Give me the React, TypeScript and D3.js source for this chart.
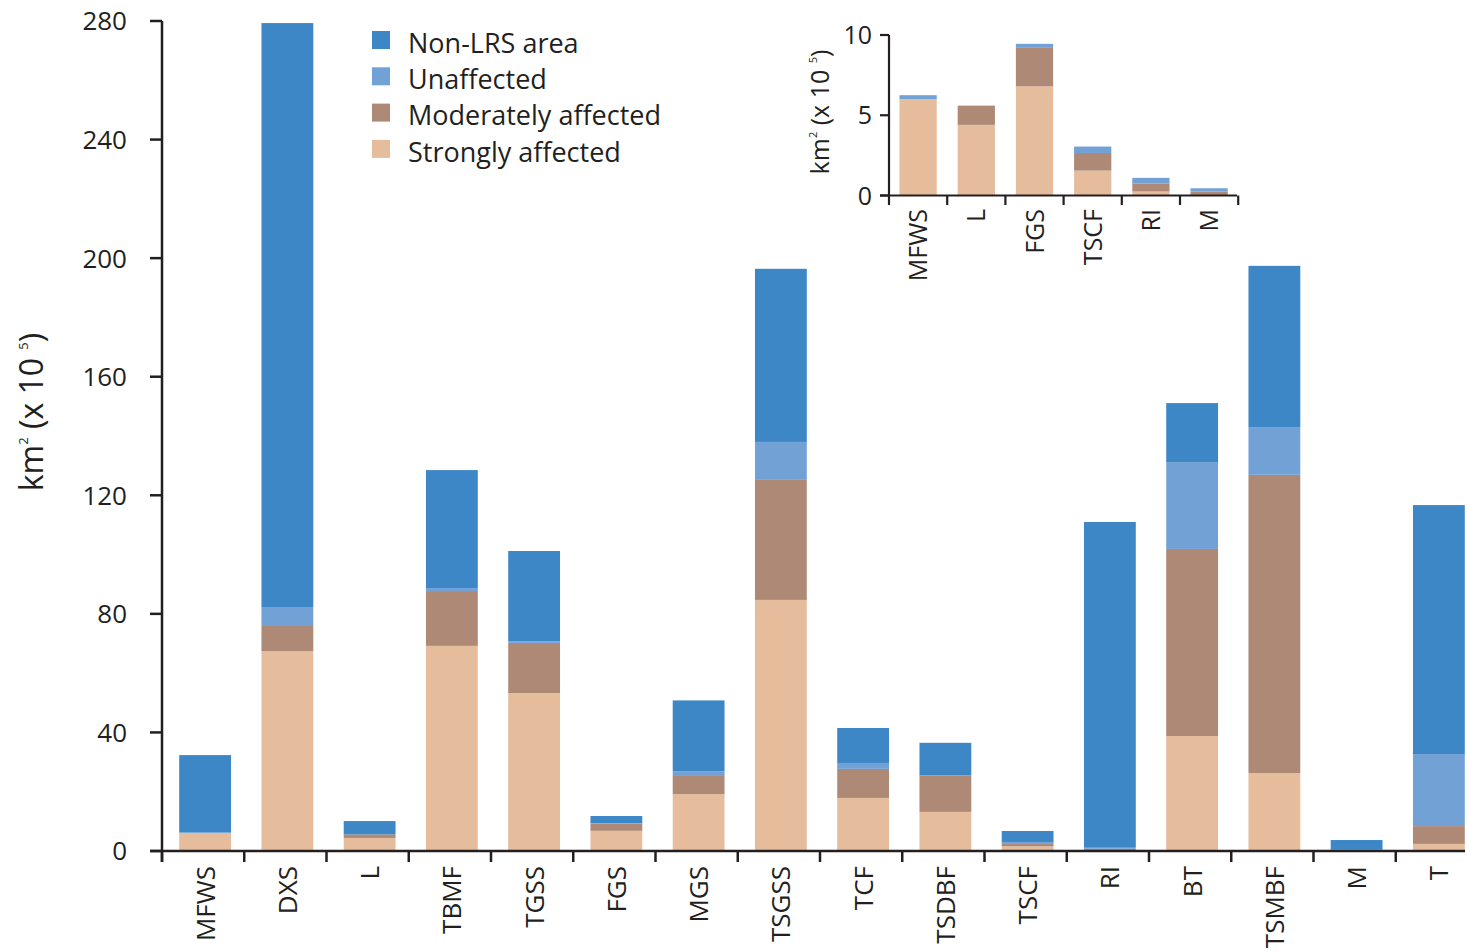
import React from "react";
import * as d3 from "d3";

const categories = ["MFWS","DXS","L","TBMF","TGSS","FGS","MGS","TSGSS","TCF","TSDBF","TSCF","RI","BT","TSMBF","M","T"];
const strongly = [6.0, 67.4, 4.4, 69.2, 53.3, 6.8, 19.2, 84.7, 17.9, 13.2, 1.55, 0.25, 38.8, 26.3, 0.02, 2.4];
const moderately = [0, 8.5, 1.2, 18.5, 16.9, 2.4, 6.4, 40.5, 9.8, 12.1, 1.1, 0.5, 63.1, 100.6, 0.23, 6.0];
const unaffected = [0.25, 6.4, 0, 1.0, 0.5, 0.25, 1.3, 12.8, 2.0, 0.2, 0.4, 0.35, 29.3, 16.1, 0.2, 24.3];
const nonLRS = [26.1, 197, 4.5, 39.8, 30.5, 2.35, 23.9, 58.4, 11.8, 11.0, 3.7, 109.9, 19.9, 54.4, 3.25, 84.0];

const insetCategories = ["MFWS","L","FGS","TSCF","RI","M"];
const yTicks = [0, 40, 80, 120, 160, 200, 240, 280];
const insetTicks = [0, 5, 10];

const seriesNames = ["Strongly affected","Moderately affected","Unaffected","Non-LRS area"];
const colors = ["#e5bd9d","#ae8a76","#72a1d6","#3d87c7"];
const legendOrder = [3, 2, 1, 0];

const FONT = "'Open Sans', 'Noto Sans', sans-serif";
const INK = "#231f20";

function stackRows(cats: string[]) {
  return cats.map((c) => {
    const i = categories.indexOf(c);
    return { cat: c, s0: strongly[i], s1: moderately[i], s2: unaffected[i], s3: nonLRS[i] };
  });
}

export default function App() {
  const W = 1467, H = 952;
  // main chart
  const x = d3.scaleBand().domain(categories).range([164, 1480]).paddingInner(0.37).paddingOuter(0.185);
  const y = d3.scaleLinear().domain([0, 280]).range([851, 21]);
  const mainSeries = d3.stack<any>().keys(["s0", "s1", "s2", "s3"])(stackRows(categories));
  const step = x.step();

  // inset (LRS classes only)
  const xi = d3.scaleBand().domain(insetCategories).range([889, 889 + 58.2 * 6]).paddingInner(0.36).paddingOuter(0.18);
  const yi = d3.scaleLinear().domain([0, 10]).range([195.5, 35]);
  const insetSeries = d3.stack<any>().keys(["s0", "s1", "s2"])(stackRows(insetCategories));
  const stepI = xi.step();

  return (
    <svg width={W} height={H} style={{ position: "absolute", left: 0, top: 0, background: "#fff" }} fontFamily={FONT}>
      {/* main bars */}
      {mainSeries.map((s, si) => (
        <g key={si} fill={colors[si]}>
          {s.map((d: any, j: number) => (
            <rect key={j} x={x(d.data.cat)} width={x.bandwidth()} y={y(d[1])} height={Math.max(0, y(d[0]) - y(d[1]))} />
          ))}
        </g>
      ))}
      {/* main y axis */}
      <line x1={162} x2={162} y1={21} y2={862} stroke={INK} strokeWidth={2.5} />
      {yTicks.map((t) => (
        <g key={t}>
          <line x1={150} x2={162} y1={y(t)} y2={y(t)} stroke={INK} strokeWidth={2.5} />
          <text x={127} y={y(t)} dy="0.36em" textAnchor="end" fontSize={26} fill={INK}>{t}</text>
        </g>
      ))}
      {/* main x axis */}
      <line x1={150} x2={1465} y1={851} y2={851} stroke={INK} strokeWidth={2.5} />
      {categories.map((c, i) => (
        <line key={"t" + c} x1={162 + i * step} x2={162 + i * step} y1={851} y2={862} stroke={INK} strokeWidth={2.5} />
      ))}
      {categories.map((c) => (
        <text key={"l" + c} transform={`translate(${(x(c) as number) + x.bandwidth() / 2},866) rotate(-90)`} textAnchor="end" dy="0.36em" fontSize={26} fill={INK}>{c}</text>
      ))}
      {/* y label */}
      <text transform="translate(43,412) rotate(-90)" textAnchor="middle" fontSize={32} fill={INK}>
        km<tspan fontSize={13} dy={-15}>2</tspan><tspan dy={15}> (x 10 </tspan><tspan fontSize={13} dy={-15}>5</tspan><tspan dy={15}>)</tspan>
      </text>
      {/* legend */}
      {legendOrder.map((si, k) => (
        <g key={si} transform={`translate(372,${31 + k * 36.3})`}>
          <rect width={18} height={18} fill={colors[si]} />
          <text x={36} y={12} dy="0.36em" fontSize={27} fill={INK}>{seriesNames[si]}</text>
        </g>
      ))}
      {/* inset bars */}
      {insetSeries.map((s, si) => (
        <g key={"i" + si} fill={colors[si]}>
          {s.map((d: any, j: number) => (
            <rect key={j} x={xi(d.data.cat)} width={xi.bandwidth()} y={yi(d[1])} height={Math.max(0, yi(d[0]) - yi(d[1]))} />
          ))}
        </g>
      ))}
      <line x1={889} x2={889} y1={35} y2={205} stroke={INK} strokeWidth={2.2} />
      {insetTicks.map((t) => (
        <g key={"it" + t}>
          <line x1={880} x2={889} y1={yi(t)} y2={yi(t)} stroke={INK} strokeWidth={2.2} />
          <text x={872} y={yi(t)} dy="0.36em" textAnchor="end" fontSize={25} fill={INK}>{t}</text>
        </g>
      ))}
      <line x1={880} x2={1237} y1={195.5} y2={195.5} stroke={INK} strokeWidth={2.2} />
      {insetCategories.map((c, i) => (
        <line key={"itk" + c} x1={889 + (i + 1) * stepI} x2={889 + (i + 1) * stepI} y1={195.5} y2={205} stroke={INK} strokeWidth={2.2} />
      ))}
      {insetCategories.map((c) => (
        <text key={"il" + c} transform={`translate(${(xi(c) as number) + xi.bandwidth() / 2},209) rotate(-90)`} textAnchor="end" dy="0.36em" fontSize={25} fill={INK}>{c}</text>
      ))}
      <text transform="translate(829,112) rotate(-90)" textAnchor="middle" fontSize={25} fill={INK}>
        km<tspan fontSize={11} dy={-12}>2</tspan><tspan dy={12}> (x 10 </tspan><tspan fontSize={11} dy={-12}>5</tspan><tspan dy={12}>)</tspan>
      </text>
    </svg>
  );
}
